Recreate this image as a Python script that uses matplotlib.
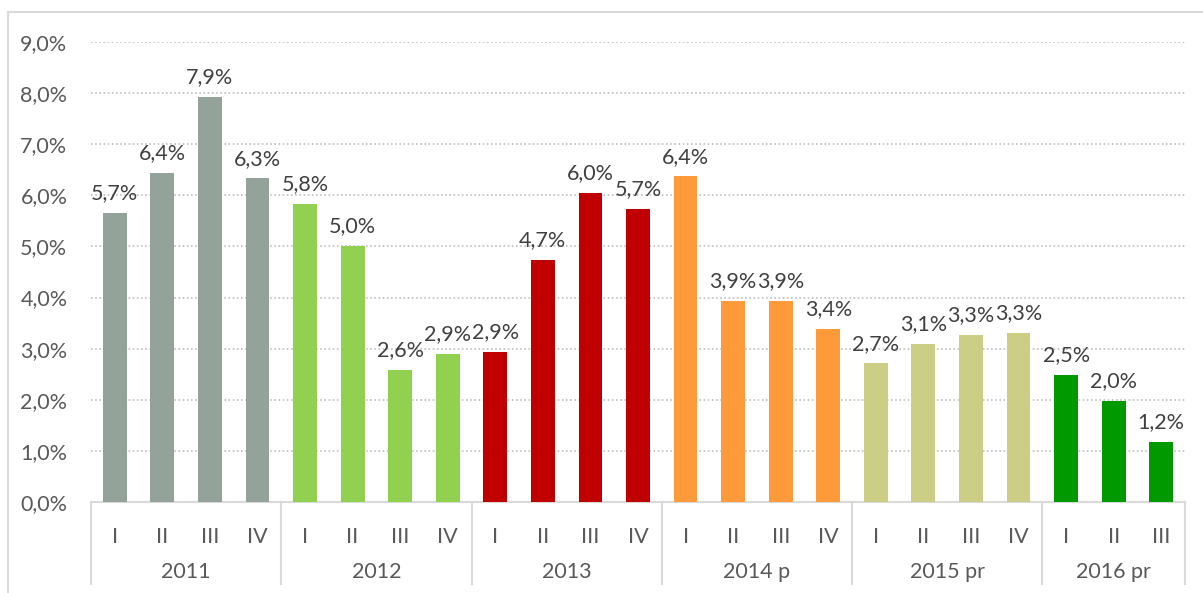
import matplotlib
matplotlib.use("Agg")
import matplotlib.pyplot as plt
from matplotlib.patches import Rectangle

plt.rcParams['font.family'] = ['Lato', 'DejaVu Sans']

years = ["2011", "2012", "2013", "2014 p", "2015 pr", "2016 pr"]
quarters = [["I", "II", "III", "IV"], ["I", "II", "III", "IV"], ["I", "II", "III", "IV"],
            ["I", "II", "III", "IV"], ["I", "II", "III", "IV"], ["I", "II", "III"]]
values = [[5.66, 6.44, 7.93, 6.33],
          [5.83, 5.01, 2.59, 2.90],
          [2.94, 4.74, 6.05, 5.74],
          [6.37, 3.94, 3.94, 3.39],
          [2.71, 3.09, 3.27, 3.31],
          [2.49, 1.98, 1.18]]
colors = ["#94A39A", "#92D050", "#C00000", "#FF9A3A", "#CCCE85", "#009900"]
yticks = [0, 1, 2, 3, 4, 5, 6, 7, 8, 9]

fig = plt.figure(figsize=(12.03, 5.93), dpi=100)
ax = fig.add_axes([91/1203, (593-502)/593, (1185-91)/1203, 460/593])

# figure frame
fig.patches.append(Rectangle((8/1203, -0.1), 1.2, (593-12)/593 + 0.1, transform=fig.transFigure,
                             fill=False, edgecolor="#d9d9d9", linewidth=1.5))

FS = 15.5
x = 0
xs, labels = [], []
bounds = [-0.5]
for g, (yr, qs, vals, c) in enumerate(zip(years, quarters, values, colors)):
    start = x
    for q, v in zip(qs, vals):
        ax.bar(x, v, width=0.5, color=c, zorder=3)
        ax.annotate(f"{v:.1f}%".replace(".", ","), (x, v), xytext=(0, 7),
                    textcoords="offset points", ha="center", va="bottom",
                    fontsize=FS, color="#404040")
        xs.append(x)
        labels.append(q)
        x += 1
    bounds.append(x - 0.5)
    mid = (start + x - 1) / 2
    ax.text(mid, -0.152, yr, transform=ax.get_xaxis_transform(), ha="center", va="center",
            fontsize=FS, color="#595959")

for b in bounds:
    ax.plot([b, b], [0, -0.178], transform=ax.get_xaxis_transform(), color="#d9d9d9",
            lw=1.5, clip_on=False)

ax.set_xlim(-0.5, x - 0.5)
ax.set_ylim(0, 9)
ax.set_xticks(xs)
ax.set_xticklabels(labels, fontsize=FS, color="#595959")
ax.tick_params(axis="x", length=0, pad=18)
ax.set_yticks(yticks)
ax.set_yticklabels([f"{t:.1f}%".replace(".", ",") for t in yticks], fontsize=FS,
                   color="#595959")
ax.tick_params(axis="y", length=0, pad=17)
for t in yticks[1:]:
    ax.axhline(t, color="#bfbfbf", lw=1.2, ls=(0, (1, 1.5)), zorder=1)
for s in ["top", "right", "left"]:
    ax.spines[s].set_visible(False)
ax.spines["bottom"].set_color("#d9d9d9")
ax.spines["bottom"].set_linewidth(1.5)

fig.savefig("out.png", dpi=100)
